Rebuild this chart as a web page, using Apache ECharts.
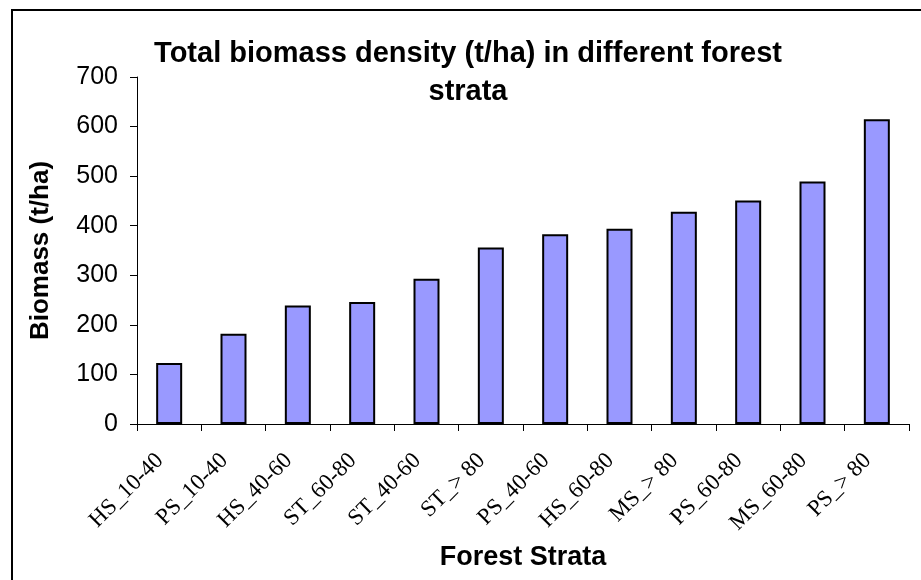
<!DOCTYPE html>
<html>
<head>
<meta charset="utf-8">
<script src="https://cdn.jsdelivr.net/npm/echarts@6/dist/echarts.min.js"></script>
<style>
  html, body { margin: 0; padding: 0; background: #fff; }
  #main { width: 921px; height: 580px; }
</style>
</head>
<body>
<div id="main"></div>
<script>
// strata (x axis) and biomass values
var strata = ['HS_10-40', 'PS_10-40', 'HS_40-60', 'ST_60-80', 'ST_40-60', 'ST_> 80',
              'PS_40-60', 'HS_60-80', 'MS_> 80', 'PS_60-80', 'MS_60-80', 'PS_> 80'];
var biomass = [123, 182, 239, 246, 293, 356, 383, 394, 428, 451, 489, 615];
var yTicks = [0, 100, 200, 300, 400, 500, 600, 700];

var chart = echarts.init(document.getElementById('main'));

var option = {
    animation: false,
    backgroundColor: '#fff',
    title: {
        text: 'Total biomass density (t/ha) in different forest\nstrata',
        left: 463,
        top: 30,
        textAlign: 'center',
        textStyle: {
            fontFamily: 'Liberation Sans',
            fontWeight: 'bold',
            fontSize: 29,
            lineHeight: 38,
            color: '#000'
        }
    },
    graphic: [{
        // chart-area frame, right and bottom edges fall outside the picture
        type: 'rect',
        shape: { x: 12, y: 10, width: 1000, height: 1000 },
        style: { fill: 'none', stroke: '#000', lineWidth: 2 },
        silent: true
    }],
    grid: { left: 137, right: 12, top: 77, bottom: 156 },
    xAxis: {
        type: 'category',
        data: strata,
        name: 'Forest Strata',
        nameLocation: 'middle',
        nameGap: 120,
        nameTextStyle: { fontFamily: 'Liberation Sans', fontWeight: 'bold', fontSize: 27, color: '#000' },
        axisLine: { lineStyle: { color: '#000', width: 1 } },
        axisTick: { show: true, length: 7, lineStyle: { color: '#000' } },
        axisLabel: {
            interval: 0,
            rotate: 45,
            margin: 24,
            padding: [0, 13, 0, 0],
            fontFamily: 'Liberation Serif',
            fontSize: 23,
            color: '#000'
        }
    },
    yAxis: {
        type: 'value',
        min: 0,
        max: 700,
        interval: 100,
        name: 'Biomass (t/ha)',
        nameLocation: 'middle',
        nameRotate: 90,
        nameGap: 83,
        nameTextStyle: { fontFamily: 'Liberation Sans', fontWeight: 'bold', fontSize: 26, color: '#000' },
        axisLine: { show: true, lineStyle: { color: '#000', width: 1 } },
        axisTick: { show: true, length: 7, lineStyle: { color: '#000' } },
        splitLine: { show: false },
        axisLabel: {
            margin: 19,
            fontFamily: 'Liberation Sans',
            fontSize: 25,
            color: '#000',
            formatter: function (v) { return yTicks.indexOf(v) >= 0 ? String(v) : ''; }
        }
    },
    series: [{
        type: 'bar',
        data: biomass,
        barWidth: 26,
        itemStyle: { color: '#9999ff', borderColor: '#000', borderWidth: 2 }
    }]
};

chart.setOption(option);
</script>
</body>
</html>
